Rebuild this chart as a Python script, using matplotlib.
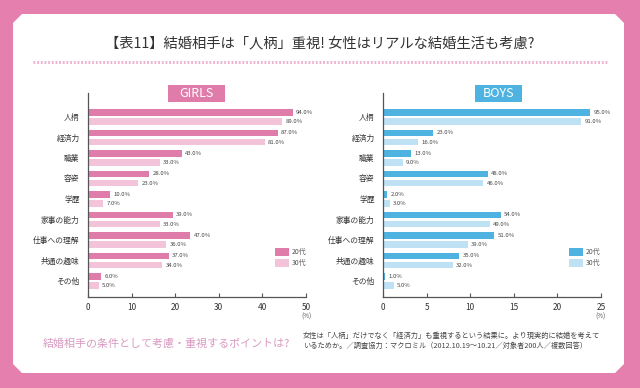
import matplotlib
matplotlib.use("Agg")
import matplotlib.pyplot as plt
from matplotlib.patches import Polygon, Rectangle
import numpy as np

plt.rcParams['font.family'] = ['Noto Sans CJK JP', 'DejaVu Sans']

# data
categories = ["人柄", "経済力", "職業", "容姿", "学歴", "家事の能力", "仕事への理解", "共通の趣味", "その他"]
girls_20 = [94, 87, 43, 28, 10, 39, 47, 37, 6]
girls_30 = [89, 81, 33, 23, 7, 33, 36, 34, 5]
boys_20 = [95, 23, 13, 48, 2, 54, 51, 35, 1]
boys_30 = [91, 16, 9, 46, 3, 49, 39, 32, 5]
girls_ticklabels = ["0", "10", "20", "30", "40", "50"]
boys_ticklabels = ["0", "5", "10", "15", "20", "25"]
series = ["20代", "30代"]

title = "【表11】結婚相手は「人柄」重視! 女性はリアルな結婚生活も考慮?"
subtitle = "結婚相手の条件として考慮・重視するポイントは?"
note = ("女性は「人柄」だけでなく「経済力」も重視するという結果に。より現実的に結婚を考えて\n"
        "いるためか。／調査協力：マクロミル（2012.10.19〜10.21／対象者200人／複数回答）")

PINK_BG = "#e47fae"
G1, G2 = "#e07caa", "#f3c4d9"
B1, B2 = "#4fb3e2", "#bfe1f4"

W, H = 640, 388
fig = plt.figure(figsize=(W / 100, H / 100), dpi=100)
fig.patch.set_facecolor(PINK_BG)

# background layer in pixel coords
bg = fig.add_axes([0, 0, 1, 1])
bg.set_xlim(0, W)
bg.set_ylim(H, 0)
bg.axis("off")
c = 9
x0, x1, y0, y1 = 13, 624, 14, 373
panel = Polygon([(x0 + c, y0), (x1 - c, y0), (x1, y0 + c), (x1, y1 - c),
                 (x1 - c, y1), (x0 + c, y1), (x0, y1 - c), (x0, y0 + c)],
                closed=True, facecolor="white", edgecolor="none")
bg.add_patch(panel)
bg.text(320, 44, title, ha="center", va="center", fontsize=10.3, color="#333333")
bg.plot([33, 608], [62, 62], color="#eeb5cf", lw=2.2, ls=(0, (0.6, 0.6)))
bg.text(43, 344, subtitle, ha="left", va="center", fontsize=7.9, color="#d99ac2")
bg.text(303, 340.5, note, ha="left", va="center", fontsize=5.2, color="#444444", linespacing=1.35)

# group title boxes
for (bx, bw, label, col) in [(168, 57, "GIRLS", G1), (475, 47, "BOYS", B1)]:
    bg.add_patch(Rectangle((bx, 85), bw, 17, facecolor=col, edgecolor="none"))
    bg.text(bx + bw / 2, 93.5, label, ha="center", va="center", fontsize=9, color="white")


def panel_chart(rect, v20, v30, c1, c2, ticklabels, legend_x):
    ax = fig.add_axes(rect)
    y = np.arange(len(categories))
    h = 0.31
    off = 0.22
    b1 = ax.barh(y - off, v20, height=h, color=c1)
    b2 = ax.barh(y + off, v30, height=h, color=c2)
    for bars, vals in ((b1, v20), (b2, v30)):
        for b, v in zip(bars, vals):
            ax.text(b.get_width() + 1.5, b.get_y() + b.get_height() / 2,
                    f"{v:.1f}%", ha="left", va="center", fontsize=4.3, color="#444444")
    ax.set_xlim(0, 100)
    ax.set_ylim(8.78, -1.17)
    ax.set_yticks(y)
    ax.set_yticklabels(categories, fontsize=5.6, color="#333333")
    ticks = np.linspace(0, 100, len(ticklabels))
    ax.set_xticks(ticks)
    ax.set_xticklabels(ticklabels, fontsize=6, color="#333333")
    ax.tick_params(axis="y", length=0, pad=6)
    ax.tick_params(axis="x", direction="in", length=3, width=0.8, color="#555555", pad=4)
    for s in ("top", "right"):
        ax.spines[s].set_visible(False)
    for s in ("left", "bottom"):
        ax.spines[s].set_color("#555555")
        ax.spines[s].set_linewidth(0.9)
    ax.set_facecolor("none")
    ax.text(1.0, -0.095, "(%)", transform=ax.transAxes, ha="center", va="center",
            fontsize=4.5, color="#555555")
    # legend
    for i, (lab, col) in enumerate(zip(series, (c1, c2))):
        bg.add_patch(Rectangle((legend_x, 248 + i * 11), 14, 8, facecolor=col, edgecolor="none"))
        bg.text(legend_x + 17, 252 + i * 11, lab, ha="left", va="center", fontsize=5, color="#555555")
    return ax


panel_chart([88 / W, 1 - 297 / H, (306 - 88) / W, (297 - 93) / H],
            girls_20, girls_30, G1, G2, girls_ticklabels, 275)
panel_chart([383 / W, 1 - 297 / H, (601 - 383) / W, (297 - 93) / H],
            boys_20, boys_30, B1, B2, boys_ticklabels, 569)

fig.savefig("out.png", dpi=100, facecolor=fig.get_facecolor())
